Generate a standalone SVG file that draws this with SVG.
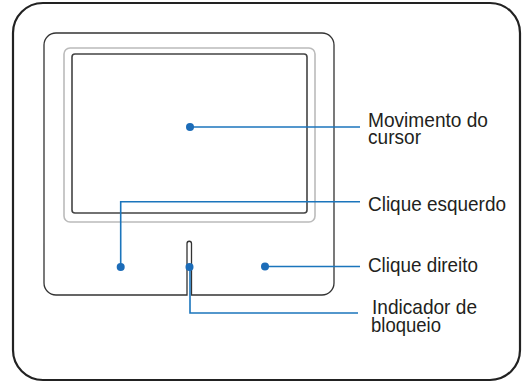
<svg xmlns="http://www.w3.org/2000/svg" width="525" height="382" viewBox="0 0 525 382">
<style>
.lbl{font-family:"Liberation Sans",Arial,sans-serif;font-size:21px;fill:#231f20}
.ln{fill:none;stroke:#1b75bc;stroke-width:1.6}
.dot{fill:#1c6cb8}
</style>
<rect width="525" height="382" fill="#fff"/>
<g id="case"><rect x="13" y="3" width="507" height="377" rx="30" fill="none" stroke="#222" stroke-width="2.2"/></g>
<g id="touchpad">
<path d="M191.5 295 H322 A12 12 0 0 0 334 283 V45 A12 12 0 0 0 322 33 H56 A12 12 0 0 0 44 45 V283 A12 12 0 0 0 56 295 H187 V243.5 A2.25 2.25 0 0 1 191.5 243.5 Z" fill="none" stroke="#333" stroke-width="1.3"/>
<rect x="64" y="48" width="251" height="174" rx="6" fill="none" stroke="#bbb" stroke-width="1.6"/>
<rect x="72" y="54" width="235" height="159" rx="3" fill="none" stroke="#444" stroke-width="1.6"/>
</g>
<g id="connectors">
<path class="ln" d="M190 127 H360"/>
<path class="ln" d="M120.7 267 V201.7 H360"/>
<path class="ln" d="M265 266.5 H360"/>
<path class="ln" d="M190 267 V313 H358" stroke="#4b9cd8"/>
</g>
<g id="n-cursor"><circle class="dot" cx="190" cy="127" r="4"/><text class="lbl" x="368" y="127" textLength="120" lengthAdjust="spacingAndGlyphs">Movimento do</text><text class="lbl" x="368" y="144" textLength="53" lengthAdjust="spacingAndGlyphs">cursor</text></g>
<g id="n-left"><circle class="dot" cx="120.7" cy="267" r="4"/><text class="lbl" x="368" y="211" textLength="138" lengthAdjust="spacingAndGlyphs">Clique esquerdo</text></g>
<g id="n-right"><circle class="dot" cx="265" cy="266.5" r="4"/><text class="lbl" x="368" y="272" textLength="110" lengthAdjust="spacingAndGlyphs">Clique direito</text></g>
<g id="n-lock"><circle class="dot" cx="189.5" cy="267" r="4"/><text class="lbl" x="372" y="314" textLength="105" lengthAdjust="spacingAndGlyphs">Indicador de</text><text class="lbl" x="371" y="332" textLength="70" lengthAdjust="spacingAndGlyphs">bloqueio</text></g>
</svg>
